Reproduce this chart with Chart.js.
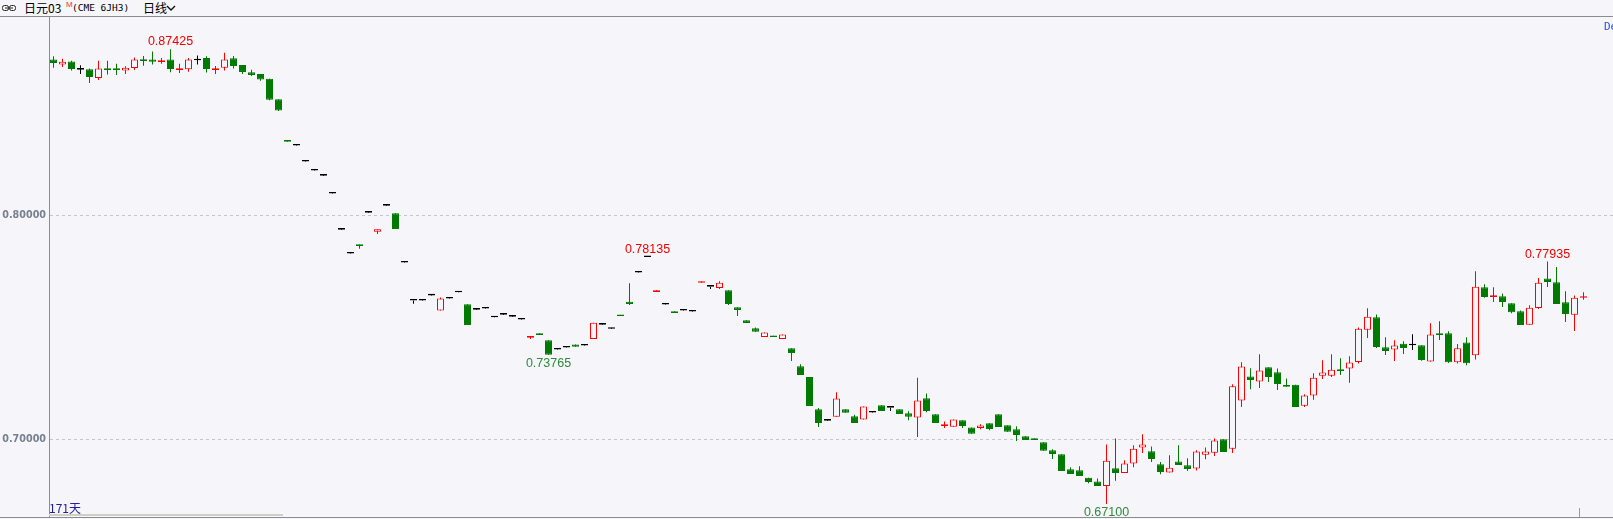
<!DOCTYPE html>
<html>
<head>
<meta charset="utf-8">
<script src="https://cdn.jsdelivr.net/npm/chart.js@4/dist/chart.umd.min.js"></script>
<style>
  html, body { margin: 0; padding: 0; width: 1613px; height: 519px; overflow: hidden; background: #f5f5fa; position: relative;
    font-family: "Noto Sans CJK SC", "Liberation Sans", sans-serif; }
  .abs { position: absolute; white-space: nowrap; line-height: 1; }
  #hdr { position: absolute; left: 0; top: 0; width: 1613px; height: 16px; border-bottom: 1px solid #8c8c8c; }
  #chart { position: absolute; left: 0; top: 17px; }
  #foot { position: absolute; left: 0; top: 517px; width: 1613px; height: 1px; background: #8c8c8c; }
</style>
</head>
<body>
<div id="hdr">
  <svg class="abs" style="left:2px;top:5px" width="14" height="7">
    <rect x="0.5" y="0.5" width="6" height="5" rx="2" fill="none" stroke="#222"/>
    <rect x="7.5" y="0.5" width="6" height="5" rx="2" fill="none" stroke="#222"/>
    <line x1="3" y1="3" x2="11" y2="3" stroke="#222"/>
  </svg>
  <span class="abs" style="left:24px;top:2px;font-size:12px;color:#000">日元03</span>
  <span class="abs" style="left:66px;top:1px;font-size:8px;color:#f03030;font-family:'Liberation Sans'">M</span>
  <span class="abs" style="left:72px;top:3px;font-size:9.5px;color:#000;font-family:'DejaVu Sans Mono'">(CME 6JH3)</span>
  <span class="abs" style="left:143px;top:2px;font-size:12px;color:#000">日线</span>
  <svg class="abs" style="left:166px;top:5px" width="10" height="7">
    <polyline points="1,1 5,5 9,1" fill="none" stroke="#111" stroke-width="1.4"/>
  </svg>
</div>
<canvas id="chart" width="1613" height="500"></canvas>
<div id="foot"></div>
<span class="abs" style="left:1604px;top:21px;font-size:11px;color:#2a50e0;font-family:'DejaVu Sans Mono'">De</span>
<span class="abs" style="left:49px;top:502px;font-size:12px;color:#2020a0">171天</span>
<div class="abs" style="left:49px;top:514px;width:234px;height:2px;background:#cfcfc6"></div>
<div class="abs" style="left:1579px;top:508px;width:1px;height:9px;background:#9a9a9a"></div>
<script>
// Daily OHLC for the JPY futures contract (171 sessions).
const opens = [
  .8696, .8674, .8688, .8651, .8653, .8614, .8657, .8657, .8647, .8659,
  .8697, .8697, .8685, .8697, .8650, .8653, .8693, .8703, .8650, .8660,
  .8702, .8672, .8639, .8632, .8610, .8519, .8330, .8312, .8240, .8200,
  .8177, .8097, .7936, .7829, .7870, .8012, .7927, .8043, .8009, .7789,
  .7619, .7619, .7642, .7574, .7628, .7656, .7602, .7578, .7583, .7544,
  .7556, .7547, .7534, .7453, .7473, .7441, .7400, .7409, .7422, .7418,
  .7447, .7511, .7493, .7551, .7614, .7744, .78135, .7657, .7601, .7571,
  .7574, .7570, .7698, .7681, .7675, .7665, .7589, .7531, .7495, .7456,
  .7462, .7447, .7406, .7325, .7277, .7133, .7082, .7099, .7133, .7102,
  .7087, .7118, .7151, .7140, .7133, .7115, .7096, .7182, .7111, .7058,
  .7055, .7084, .7052, .7049, .7070, .7111, .7061, .7044, .7012, .7003,
  .6985, .6950, .6932, .6865, .6860, .6827, .6810, .6790, .6869, .6848,
  .6890, .6962, .6945, .6887, .6850, .6900, .6883, .6868, .6930, .6939,
  .6999, .6957, .7172, .7280, .7257, .7321, .7298, .7240, .7243, .7149,
  .7194, .7283, .7283, .7312, .7315, .7344, .7489, .7544, .7410, .7400,
  .7426, .7419, .7419, .7347, .7473, .7473, .7343, .7431, .7374, .7678,
  .7635, .7638, .7607, .7571, .7511, .7586, .7718, .7701, .7611, .7556,
  .7631,
];
const highs = [
  .8711, .8700, .8691, .8671, .8656, .8691, .8691, .8677, .8666, .8706,
  .8712, .8732, .8703, .87425, .8678, .8703, .8714, .8711, .8668, .8727,
  .8712, .8672, .8651, .8632, .8610, .8519, .8330, .8312, .8240, .8200,
  .8177, .8097, .7936, .7829, .7870, .8012, .7938, .8043, .8009, .7789,
  .7619, .7619, .7642, .7633, .7628, .7656, .7602, .7578, .7583, .7544,
  .7556, .7547, .7534, .7459, .7473, .7441, .7400, .7409, .7422, .7418,
  .7520, .7511, .7493, .7551, .7696, .7744, .78135, .7665, .7601, .7571,
  .7574, .7570, .7704, .7681, .7705, .7665, .7589, .7531, .7499, .7476,
  .7462, .7467, .7406, .7334, .7277, .7139, .7082, .7209, .7133, .7108,
  .7145, .7118, .7151, .7140, .7133, .7124, .7274, .7204, .7111, .7078,
  .7087, .7084, .7052, .7066, .7070, .7111, .7061, .7057, .7012, .7003,
  .6985, .6954, .6932, .6874, .6878, .6827, .6824, .6976, .7002, .6905,
  .6972, .7021, .6967, .6897, .6927, .6972, .6914, .6950, .6962, .7002,
  .6999, .7245, .7343, .7316, .7379, .7321, .7315, .7271, .7243, .7200,
  .7294, .7352, .7379, .7361, .7370, .7499, .7584, .7557, .7455, .7441,
  .7437, .7468, .7419, .7517, .7526, .7482, .7425, .7455, .7750, .7692,
  .7678, .7651, .7607, .7575, .7598, .7720, .77935, .7769, .7660, .7642,
  .7656,
];
const lows = [
  .8660, .8663, .8647, .8632, .8592, .8605, .8629, .8627, .8632, .8650,
  .8669, .8674, .8678, .8639, .8636, .8642, .8674, .8638, .8632, .8647,
  .8656, .8632, .8623, .8601, .8514, .8466, .8329, .8312, .8240, .8200,
  .8177, .8097, .7936, .7829, .7850, .8012, .7917, .8043, .7939, .7789,
  .7605, .7619, .7642, .7574, .7628, .7656, .7510, .7578, .7583, .7544,
  .7556, .7547, .7534, .7447, .7465, .73765, .7400, .7409, .7412, .7418,
  .7447, .7511, .7493, .7550, .7599, .7744, .78135, .7657, .7601, .7563,
  .7574, .7570, .7698, .7671, .7671, .7599, .7550, .7519, .7479, .7456,
  .7456, .7447, .7349, .7286, .7148, .7054, .7082, .7099, .7117, .7072,
  .7087, .7118, .7125, .7125, .7112, .7084, .7009, .7120, .7072, .7049,
  .7055, .7049, .7023, .7044, .7039, .7054, .7032, .6991, .6996, .6996,
  .6947, .6911, .6857, .6844, .6835, .6802, .6790, .6710, .6813, .6848,
  .6874, .6938, .6897, .6842, .6850, .6884, .6857, .6859, .6909, .6924,
  .6942, .6938, .7143, .7222, .7228, .7255, .7219, .7234, .7143, .7143,
  .7175, .7268, .7277, .7286, .7251, .7338, .7452, .7407, .7376, .7349,
  .7380, .7398, .7350, .7345, .7443, .7340, .7338, .7330, .7356, .7631,
  .7613, .7590, .7562, .7510, .7511, .7581, .7680, .7604, .7523, .7483,
  .7622,
];
const closes = [
  .8681, .8687, .8654, .8651, .8618, .8656, .8650, .8650, .8660, .8696,
  .8690, .8687, .8693, .8654, .8657, .8696, .8693, .8654, .8657, .8697,
  .8668, .8641, .8627, .8607, .8517, .8469, .8329, .8312, .8240, .8200,
  .8177, .8097, .7936, .7829, .7863, .8012, .7938, .8043, .7939, .7789,
  .7619, .7619, .7642, .7628, .7628, .7656, .7510, .7578, .7583, .7544,
  .7556, .7547, .7534, .7459, .7465, .7377, .7400, .7409, .7412, .7418,
  .7520, .7511, .7493, .7550, .7604, .7744, .78135, .7665, .7601, .7563,
  .7574, .7570, .7704, .7681, .7699, .7604, .7577, .7519, .7479, .7476,
  .7456, .7467, .7385, .7286, .7148, .7072, .7082, .7181, .7117, .7072,
  .7145, .7118, .7125, .7140, .7112, .7099, .7172, .7125, .7072, .7066,
  .7087, .7058, .7023, .7060, .7045, .7054, .7032, .7018, .6996, .6996,
  .6947, .6933, .6857, .6844, .6835, .6808, .6790, .6903, .6848, .6890,
  .6957, .6975, .6911, .6853, .6872, .6884, .6866, .6944, .6944, .6993,
  .6942, .7236, .7324, .7264, .7306, .7277, .7246, .7234, .7143, .7194,
  .7274, .7297, .7310, .7304, .7342, .7493, .7547, .7411, .7394, .7418,
  .7407, .7419, .7353, .7467, .7465, .7343, .7406, .7339, .7681, .7635,
  .7642, .7613, .7567, .7510, .7587, .7699, .7702, .7604, .7559, .7632,
  .7638,
];
const yTicks = [0.70, 0.80];
// swing highs/lows that carry a price label
const markIdx = [13, 55, 66, 117, 166];
const markSide = ["high", "low", "high", "low", "high"];

const UP = "#ff0000", DOWN = "#007a00", FLAT = "#000000", BG = "#f5f5fa";
const dir = (i) => (closes[i] > opens[i] ? 1 : closes[i] < opens[i] ? -1 : 0);
const lineColor = (i) => { const d = dir(i); return d > 0 ? UP : d < 0 ? DOWN : FLAT; };

const idx = opens.map((_, i) => i);

const markPlugin = {
  id: "marks",
  afterDatasetsDraw(chart) {
    const { ctx, scales: { x, y } } = chart;
    ctx.save();
    ctx.font = '12.5px "Liberation Sans"';
    ctx.textAlign = "center";
    ctx.textBaseline = "alphabetic";
    markIdx.forEach((i, k) => {
      const hi = markSide[k] === "high";
      const v = hi ? highs[i] : lows[i];
      const py = y.getPixelForValue(v);
      ctx.fillStyle = hi ? "#f00000" : "#2f8a3a";
      ctx.fillText(v.toFixed(5), x.getPixelForValue(i), hi ? py - 4 : py + 12.5);
    });
    ctx.restore();
  },
};

new Chart(document.getElementById("chart"), {
  type: "bar",
  data: {
    datasets: [
      {
        label: "body",
        order: 0,
        data: idx.map((i) => ({ x: i, y: [opens[i], closes[i]] })),
        grouped: false,
        barThickness: 7,
        minBarLength: 1.6,
        borderWidth: 1,
        borderSkipped: false,
        inflateAmount: 0,
        borderColor: (c) => lineColor(c.dataIndex),
        backgroundColor: (c) => (dir(c.dataIndex) > 0 ? BG : lineColor(c.dataIndex)),
      },
      {
        label: "wick",
        order: 1,
        data: idx.map((i) => ({ x: i, y: [lows[i], highs[i]] })),
        grouped: false,
        barThickness: 1,
        minBarLength: 1,
        borderWidth: 0,
        inflateAmount: 0,
        backgroundColor: (c) => lineColor(c.dataIndex),
      },
    ],
  },
  options: {
    responsive: false,
    animation: false,
    devicePixelRatio: 1,
    layout: { padding: 0 },
    plugins: { legend: { display: false }, tooltip: { enabled: false } },
    scales: {
      x: { type: "linear", min: -0.5, max: -0.5 + 1564 / 9, offset: false, display: false },
      y: {
        min: 0.66514,
        max: 0.88865,
        afterBuildTicks: (s) => { s.ticks = yTicks.map((v) => ({ value: v })); },
        afterFit: (s) => { s.width = 49; s.paddingTop = 0; s.paddingBottom = 0; },
        ticks: {
          callback: (v) => Number(v).toFixed(5),
          color: "#76808f",
          font: { family: "'DejaVu Sans', sans-serif", size: 9.6, weight: "bold" },
          padding: 3,
        },
        grid: { color: "#c4c4ca", drawTicks: false, tickLength: 0 },
        border: { color: "#8c8c8c", width: 1, dash: [3, 3] },
      },
    },
  },
  plugins: [markPlugin],
});
</script>
</body>
</html>
